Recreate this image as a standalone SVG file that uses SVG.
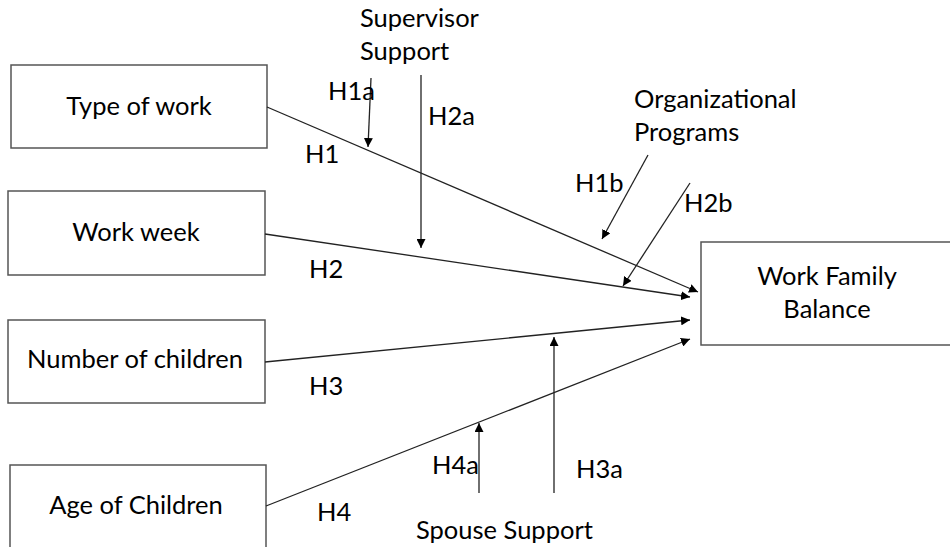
<svg xmlns="http://www.w3.org/2000/svg" width="950" height="547" viewBox="0 0 950 547">
<style>
.box{fill:#fff;stroke:#555;stroke-width:1.5}
.t{font-family:Lato,"Liberation Sans",sans-serif;font-size:25.5px;fill:#000}
.c{text-anchor:middle}
.ln{stroke:#222;stroke-width:1.3;fill:none;marker-end:url(#ah)}
</style>
<defs>
<marker id="ah" viewBox="0 0 10 10" refX="10" refY="5" markerWidth="9" markerHeight="9" markerUnits="userSpaceOnUse" orient="auto">
<path d="M0,0 L10,5 L0,10 z" fill="#000"/>
</marker>
</defs>
<rect width="950" height="547" fill="#fff"/>
<g id="type-of-work"><rect class="box" x="11" y="65" width="256" height="83"/><text class="t c" x="139" y="115">Type of work</text></g>
<g id="work-week"><rect class="box" x="8" y="191" width="257" height="84"/><text class="t c" x="136" y="241">Work week</text></g>
<g id="number-of-children"><rect class="box" x="8" y="320" width="257" height="83"/><text class="t c" x="135" y="368">Number of children</text></g>
<g id="age-of-children"><rect class="box" x="10" y="465" width="256" height="100"/><text class="t c" x="136" y="514">Age of Children</text></g>
<g id="work-family-balance"><rect class="box" x="701" y="242" width="260" height="103"/><text class="t c" x="827" y="285">Work Family</text><text class="t c" x="827" y="318">Balance</text></g>
<g id="supervisor-support"><text class="t" x="360" y="27">Supervisor</text><text class="t" x="360" y="60">Support</text></g>
<g id="organizational-programs"><text class="t" x="634" y="108">Organizational</text><text class="t" x="634" y="141">Programs</text></g>
<g id="spouse-support"><text class="t" x="416" y="539">Spouse Support</text></g>
<g id="connectors">
<line class="ln" x1="267" y1="107" x2="698" y2="292"/>
<line class="ln" x1="265" y1="234" x2="690" y2="297"/>
<line class="ln" x1="265" y1="362" x2="690" y2="320"/>
<line class="ln" x1="266" y1="506" x2="690" y2="339"/>
<line class="ln" x1="371" y1="78" x2="368" y2="147"/>
<line class="ln" x1="421" y1="75" x2="421" y2="248"/>
<line class="ln" x1="648" y1="155" x2="602" y2="239"/>
<line class="ln" x1="690" y1="183" x2="623" y2="286"/>
<line class="ln" x1="479" y1="493" x2="479" y2="423"/>
<line class="ln" x1="554" y1="493" x2="554" y2="337"/>
</g>
<g id="labels">
<text class="t" x="328" y="100">H1a</text>
<text class="t" x="305" y="163">H1</text>
<text class="t" x="428" y="125">H2a</text>
<text class="t" x="309" y="278">H2</text>
<text class="t" x="309" y="395">H3</text>
<text class="t" x="317" y="521">H4</text>
<text class="t" x="432" y="474">H4a</text>
<text class="t" x="576" y="478">H3a</text>
<text class="t" x="575" y="192">H1b</text>
<text class="t" x="684" y="212">H2b</text>
</g>
</svg>
